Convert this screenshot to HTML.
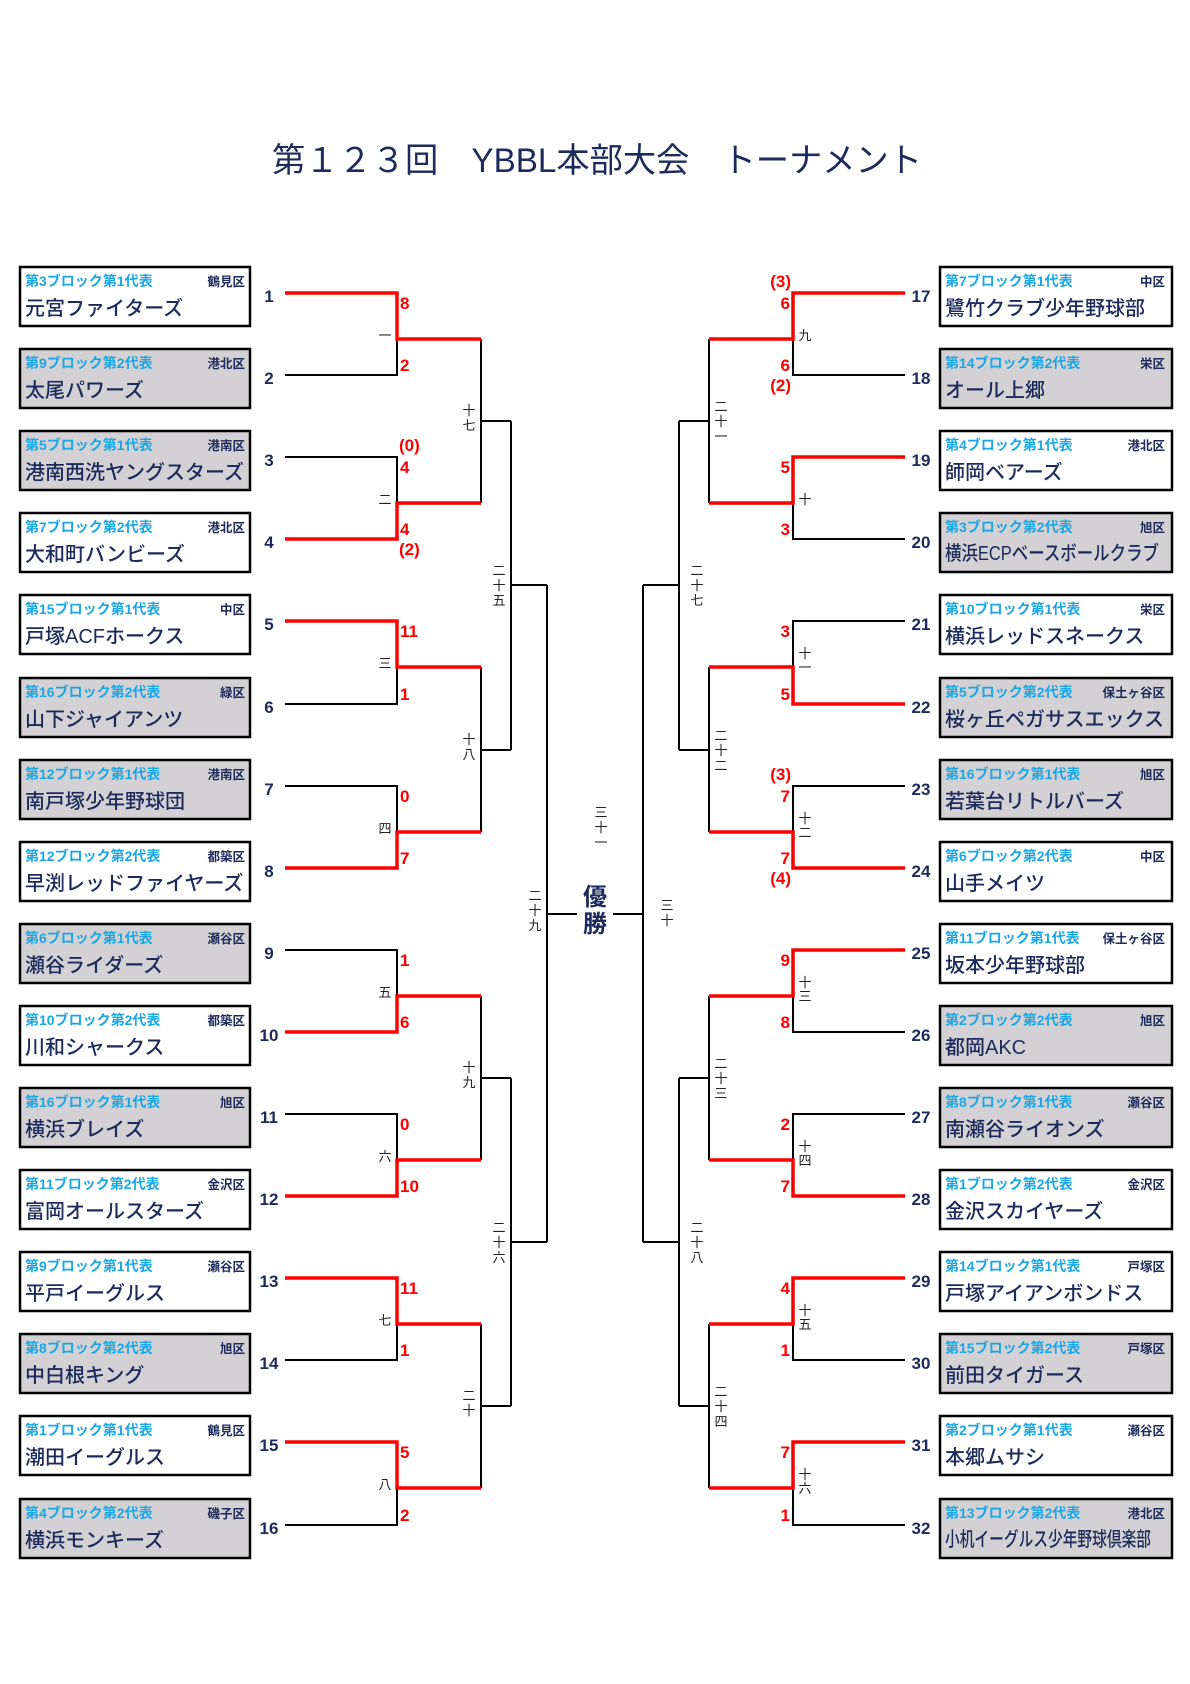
<!DOCTYPE html>
<html><head><meta charset="utf-8"><style>
html,body{margin:0;padding:0;background:#fff;}
svg{display:block;}
text{font-family:"Liberation Sans","Noto Sans CJK JP",sans-serif;}
.lb{font-size:14px;font-weight:bold;fill:#1aa7e6;}
.ds{font-size:12.5px;font-weight:bold;fill:#1c2a5c;}
.nm{font-size:20px;font-weight:500;fill:#1c2a5c;}
.no{font-size:17px;font-weight:bold;fill:#1c2a5c;}
.sc{font-size:17px;font-weight:bold;fill:#ff0000;}
.rd{font-size:13px;fill:#222;}
.bx{stroke:#000;stroke-width:2.5;}
.w{fill:#fff}.g{fill:#d3d1d3}
.k{stroke:#000;stroke-width:2;fill:none;}
.r{stroke:#ff0000;stroke-width:3.5;fill:none;}
</style></head><body>
<svg width="1190" height="1684" viewBox="0 0 1190 1684" xmlns="http://www.w3.org/2000/svg">
<text x="597" y="172" text-anchor="middle" font-size="34" fill="#1c2a5c" textLength="650" lengthAdjust="spacingAndGlyphs">第１２３回　YBBL本部大会　トーナメント</text>

<g transform="translate(20,267)"><rect class="bx w" width="230" height="59"/><text class="lb" x="5" y="19">第3ブロック第1代表</text><text class="ds" x="225" y="19" text-anchor="end">鶴見区</text><text class="nm" x="5" y="48">元宮ファイターズ</text></g>
<g transform="translate(20,349)"><rect class="bx g" width="230" height="59"/><text class="lb" x="5" y="19">第9ブロック第2代表</text><text class="ds" x="225" y="19" text-anchor="end">港北区</text><text class="nm" x="5" y="48">太尾パワーズ</text></g>
<g transform="translate(20,431)"><rect class="bx g" width="230" height="59"/><text class="lb" x="5" y="19">第5ブロック第1代表</text><text class="ds" x="225" y="19" text-anchor="end">港南区</text><text class="nm" x="5" y="48">港南西洗ヤングスターズ</text></g>
<g transform="translate(20,513)"><rect class="bx w" width="230" height="59"/><text class="lb" x="5" y="19">第7ブロック第2代表</text><text class="ds" x="225" y="19" text-anchor="end">港北区</text><text class="nm" x="5" y="48">大和町バンビーズ</text></g>
<g transform="translate(20,595)"><rect class="bx w" width="230" height="59"/><text class="lb" x="5" y="19">第15ブロック第1代表</text><text class="ds" x="225" y="19" text-anchor="end">中区</text><text class="nm" x="5" y="48">戸塚ACFホークス</text></g>
<g transform="translate(20,678)"><rect class="bx g" width="230" height="59"/><text class="lb" x="5" y="19">第16ブロック第2代表</text><text class="ds" x="225" y="19" text-anchor="end">緑区</text><text class="nm" x="5" y="48">山下ジャイアンツ</text></g>
<g transform="translate(20,760)"><rect class="bx g" width="230" height="59"/><text class="lb" x="5" y="19">第12ブロック第1代表</text><text class="ds" x="225" y="19" text-anchor="end">港南区</text><text class="nm" x="5" y="48">南戸塚少年野球団</text></g>
<g transform="translate(20,842)"><rect class="bx w" width="230" height="59"/><text class="lb" x="5" y="19">第12ブロック第2代表</text><text class="ds" x="225" y="19" text-anchor="end">都築区</text><text class="nm" x="5" y="48">早渕レッドファイヤーズ</text></g>
<g transform="translate(20,924)"><rect class="bx g" width="230" height="59"/><text class="lb" x="5" y="19">第6ブロック第1代表</text><text class="ds" x="225" y="19" text-anchor="end">瀬谷区</text><text class="nm" x="5" y="48">瀬谷ライダーズ</text></g>
<g transform="translate(20,1006)"><rect class="bx w" width="230" height="59"/><text class="lb" x="5" y="19">第10ブロック第2代表</text><text class="ds" x="225" y="19" text-anchor="end">都築区</text><text class="nm" x="5" y="48">川和シャークス</text></g>
<g transform="translate(20,1088)"><rect class="bx g" width="230" height="59"/><text class="lb" x="5" y="19">第16ブロック第1代表</text><text class="ds" x="225" y="19" text-anchor="end">旭区</text><text class="nm" x="5" y="48">横浜ブレイズ</text></g>
<g transform="translate(20,1170)"><rect class="bx w" width="230" height="59"/><text class="lb" x="5" y="19">第11ブロック第2代表</text><text class="ds" x="225" y="19" text-anchor="end">金沢区</text><text class="nm" x="5" y="48">富岡オールスターズ</text></g>
<g transform="translate(20,1252)"><rect class="bx w" width="230" height="59"/><text class="lb" x="5" y="19">第9ブロック第1代表</text><text class="ds" x="225" y="19" text-anchor="end">瀬谷区</text><text class="nm" x="5" y="48">平戸イーグルス</text></g>
<g transform="translate(20,1334)"><rect class="bx g" width="230" height="59"/><text class="lb" x="5" y="19">第8ブロック第2代表</text><text class="ds" x="225" y="19" text-anchor="end">旭区</text><text class="nm" x="5" y="48">中白根キング</text></g>
<g transform="translate(20,1416)"><rect class="bx w" width="230" height="59"/><text class="lb" x="5" y="19">第1ブロック第1代表</text><text class="ds" x="225" y="19" text-anchor="end">鶴見区</text><text class="nm" x="5" y="48">潮田イーグルス</text></g>
<g transform="translate(20,1499)"><rect class="bx g" width="230" height="59"/><text class="lb" x="5" y="19">第4ブロック第2代表</text><text class="ds" x="225" y="19" text-anchor="end">磯子区</text><text class="nm" x="5" y="48">横浜モンキーズ</text></g>

<g transform="translate(940,267)"><rect class="bx w" width="232" height="59"/><text class="lb" x="5" y="19">第7ブロック第1代表</text><text class="ds" x="225" y="19" text-anchor="end">中区</text><text class="nm" x="5" y="48">鷺竹クラブ少年野球部</text></g>
<g transform="translate(940,349)"><rect class="bx g" width="232" height="59"/><text class="lb" x="5" y="19">第14ブロック第2代表</text><text class="ds" x="225" y="19" text-anchor="end">栄区</text><text class="nm" x="5" y="48">オール上郷</text></g>
<g transform="translate(940,431)"><rect class="bx w" width="232" height="59"/><text class="lb" x="5" y="19">第4ブロック第1代表</text><text class="ds" x="225" y="19" text-anchor="end">港北区</text><text class="nm" x="5" y="48">師岡ベアーズ</text></g>
<g transform="translate(940,513)"><rect class="bx g" width="232" height="59"/><text class="lb" x="5" y="19">第3ブロック第2代表</text><text class="ds" x="225" y="19" text-anchor="end">旭区</text><text class="nm" x="5" y="47" font-size="17" textLength="214" lengthAdjust="spacingAndGlyphs">横浜ECPベースボールクラブ</text></g>
<g transform="translate(940,595)"><rect class="bx w" width="232" height="59"/><text class="lb" x="5" y="19">第10ブロック第1代表</text><text class="ds" x="225" y="19" text-anchor="end">栄区</text><text class="nm" x="5" y="48">横浜レッドスネークス</text></g>
<g transform="translate(940,678)"><rect class="bx g" width="232" height="59"/><text class="lb" x="5" y="19">第5ブロック第2代表</text><text class="ds" x="225" y="19" text-anchor="end">保土ヶ谷区</text><text class="nm" x="5" y="48">桜ヶ丘ペガサスエックス</text></g>
<g transform="translate(940,760)"><rect class="bx g" width="232" height="59"/><text class="lb" x="5" y="19">第16ブロック第1代表</text><text class="ds" x="225" y="19" text-anchor="end">旭区</text><text class="nm" x="5" y="48">若葉台リトルバーズ</text></g>
<g transform="translate(940,842)"><rect class="bx w" width="232" height="59"/><text class="lb" x="5" y="19">第6ブロック第2代表</text><text class="ds" x="225" y="19" text-anchor="end">中区</text><text class="nm" x="5" y="48">山手メイツ</text></g>
<g transform="translate(940,924)"><rect class="bx w" width="232" height="59"/><text class="lb" x="5" y="19">第11ブロック第1代表</text><text class="ds" x="225" y="19" text-anchor="end">保土ヶ谷区</text><text class="nm" x="5" y="48">坂本少年野球部</text></g>
<g transform="translate(940,1006)"><rect class="bx g" width="232" height="59"/><text class="lb" x="5" y="19">第2ブロック第2代表</text><text class="ds" x="225" y="19" text-anchor="end">旭区</text><text class="nm" x="5" y="48">都岡AKC</text></g>
<g transform="translate(940,1088)"><rect class="bx g" width="232" height="59"/><text class="lb" x="5" y="19">第8ブロック第1代表</text><text class="ds" x="225" y="19" text-anchor="end">瀬谷区</text><text class="nm" x="5" y="48">南瀬谷ライオンズ</text></g>
<g transform="translate(940,1170)"><rect class="bx w" width="232" height="59"/><text class="lb" x="5" y="19">第1ブロック第2代表</text><text class="ds" x="225" y="19" text-anchor="end">金沢区</text><text class="nm" x="5" y="48">金沢スカイヤーズ</text></g>
<g transform="translate(940,1252)"><rect class="bx w" width="232" height="59"/><text class="lb" x="5" y="19">第14ブロック第1代表</text><text class="ds" x="225" y="19" text-anchor="end">戸塚区</text><text class="nm" x="5" y="48">戸塚アイアンボンドス</text></g>
<g transform="translate(940,1334)"><rect class="bx g" width="232" height="59"/><text class="lb" x="5" y="19">第15ブロック第2代表</text><text class="ds" x="225" y="19" text-anchor="end">戸塚区</text><text class="nm" x="5" y="48">前田タイガース</text></g>
<g transform="translate(940,1416)"><rect class="bx w" width="232" height="59"/><text class="lb" x="5" y="19">第2ブロック第1代表</text><text class="ds" x="225" y="19" text-anchor="end">瀬谷区</text><text class="nm" x="5" y="48">本郷ムサシ</text></g>
<g transform="translate(940,1499)"><rect class="bx g" width="232" height="59"/><text class="lb" x="5" y="19">第13ブロック第2代表</text><text class="ds" x="225" y="19" text-anchor="end">港北区</text><text class="nm" x="5" y="47" font-size="16" textLength="206" lengthAdjust="spacingAndGlyphs">小机イーグルス少年野球倶楽部</text></g>

<g class="no" text-anchor="middle">
<text x="269" y="302">1</text><text x="269" y="384">2</text><text x="269" y="466">3</text><text x="269" y="548">4</text>
<text x="269" y="630">5</text><text x="269" y="713">6</text><text x="269" y="795">7</text><text x="269" y="877">8</text>
<text x="269" y="959">9</text><text x="269" y="1041">10</text><text x="269" y="1123">11</text><text x="269" y="1205">12</text>
<text x="269" y="1287">13</text><text x="269" y="1369">14</text><text x="269" y="1451">15</text><text x="269" y="1534">16</text>
<text x="921" y="302">17</text><text x="921" y="384">18</text><text x="921" y="466">19</text><text x="921" y="548">20</text>
<text x="921" y="630">21</text><text x="921" y="713">22</text><text x="921" y="795">23</text><text x="921" y="877">24</text>
<text x="921" y="959">25</text><text x="921" y="1041">26</text><text x="921" y="1123">27</text><text x="921" y="1205">28</text>
<text x="921" y="1287">29</text><text x="921" y="1369">30</text><text x="921" y="1451">31</text><text x="921" y="1534">32</text>
</g>

<path class="k" d="
M285 375H397V339 M481 339V503
M285 457H397V503
M285 704H397V667 M481 667V832
M285 786H397V832
M285 950H397V996 M481 996V1160
M285 1114H397V1160
M285 1360H397V1324 M481 1324V1488
M285 1525H397V1488
M481 421H511 M481 750H511 M481 1078H511 M481 1406H511
M511 421V750 M511 1078V1406 M511 585H547 M511 1242H547
M547 585V1242 M547 914H577"/>
<path class="r" d="
M285 293H397V339H481
M285 539H397V503H481
M285 621H397V667H481
M285 868H397V832H481
M285 1032H397V996H481
M285 1196H397V1160H481
M285 1278H397V1324H481
M285 1442H397V1488H481"/>

<path class="k" d="
M905 375H793V339 M709 339V503
M905 539H793V503
M905 621H793V667 M709 667V832
M905 786H793V832
M905 1032H793V996 M709 996V1160
M905 1114H793V1160
M905 1360H793V1324 M709 1324V1488
M905 1525H793V1488
M709 421H679 M709 750H679 M709 1078H679 M709 1406H679
M679 421V750 M679 1078V1406 M679 585H643 M679 1242H643
M643 585V1242 M643 914H613"/>
<path class="r" d="
M905 293H793V339H709
M905 457H793V503H709
M905 704H793V667H709
M905 868H793V832H709
M905 950H793V996H709
M905 1196H793V1160H709
M905 1278H793V1324H709
M905 1442H793V1488H709"/>

<g class="sc">
<text x="400" y="309">8</text><text x="400" y="371">2</text>
<text x="399" y="451">(0)</text><text x="400" y="473">4</text><text x="400" y="535">4</text><text x="399" y="555">(2)</text>
<text x="400" y="637">11</text><text x="400" y="700">1</text>
<text x="400" y="802">0</text><text x="400" y="864">7</text>
<text x="400" y="966">1</text><text x="400" y="1028">6</text>
<text x="400" y="1130">0</text><text x="400" y="1192">10</text>
<text x="400" y="1294">11</text><text x="400" y="1356">1</text>
<text x="400" y="1458">5</text><text x="400" y="1521">2</text>
</g>
<g class="sc" text-anchor="end">
<text x="791" y="287">(3)</text><text x="790" y="309">6</text><text x="790" y="371">6</text><text x="791" y="391">(2)</text>
<text x="790" y="473">5</text><text x="790" y="535">3</text>
<text x="790" y="637">3</text><text x="790" y="700">5</text>
<text x="791" y="780">(3)</text><text x="790" y="802">7</text><text x="790" y="864">7</text><text x="791" y="884">(4)</text>
<text x="790" y="966">9</text><text x="790" y="1028">8</text>
<text x="790" y="1130">2</text><text x="790" y="1192">7</text>
<text x="790" y="1294">4</text><text x="790" y="1356">1</text>
<text x="790" y="1458">7</text><text x="790" y="1521">1</text>
</g>

<g class="rd" text-anchor="middle">
<text x="385" y="340">一</text><text x="385" y="504">二</text><text x="385" y="668">三</text><text x="385" y="833">四</text>
<text x="385" y="997">五</text><text x="385" y="1161">六</text><text x="385" y="1325">七</text><text x="385" y="1489">八</text>
<text x="805" y="340">九</text><text x="805" y="504">十</text>
<text x="805" y="658">十</text><text x="805" y="672">一</text>
<text x="805" y="823">十</text><text x="805" y="837">二</text>
<text x="805" y="987">十</text><text x="805" y="1001">三</text>
<text x="805" y="1151">十</text><text x="805" y="1165">四</text>
<text x="805" y="1315">十</text><text x="805" y="1329">五</text>
<text x="805" y="1479">十</text><text x="805" y="1493">六</text>
<text x="469" y="415">十</text><text x="469" y="430">七</text>
<text x="469" y="744">十</text><text x="469" y="759">八</text>
<text x="469" y="1072">十</text><text x="469" y="1087">九</text>
<text x="469" y="1400">二</text><text x="469" y="1415">十</text>
<text x="721" y="411">二</text><text x="721" y="426">十</text><text x="721" y="441">一</text>
<text x="721" y="740">二</text><text x="721" y="755">十</text><text x="721" y="770">二</text>
<text x="721" y="1068">二</text><text x="721" y="1083">十</text><text x="721" y="1098">三</text>
<text x="721" y="1396">二</text><text x="721" y="1411">十</text><text x="721" y="1426">四</text>
<text x="499" y="575">二</text><text x="499" y="590">十</text><text x="499" y="605">五</text>
<text x="499" y="1232">二</text><text x="499" y="1247">十</text><text x="499" y="1262">六</text>
<text x="697" y="575">二</text><text x="697" y="590">十</text><text x="697" y="605">七</text>
<text x="697" y="1232">二</text><text x="697" y="1247">十</text><text x="697" y="1262">八</text>
<text x="535" y="900">二</text><text x="535" y="915">十</text><text x="535" y="930">九</text>
<text x="601" y="817">三</text><text x="601" y="832">十</text><text x="601" y="847">一</text>
<text x="667" y="910">三</text><text x="667" y="925">十</text>
</g>
<g text-anchor="middle" font-size="24" font-weight="bold" fill="#1c2a5c">
<text x="595" y="905">優</text><text x="595" y="932">勝</text>
</g>
</svg>
</body></html>
